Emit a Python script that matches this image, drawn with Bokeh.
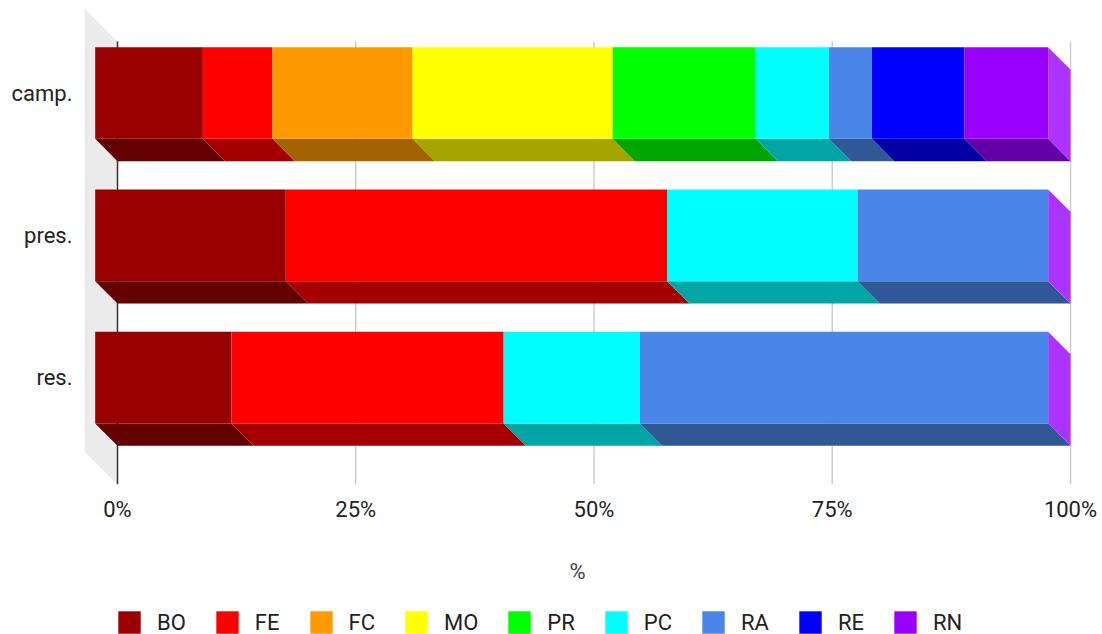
from bokeh.plotting import figure
from bokeh.layouts import column
from bokeh.models import Range1d, FixedTicker, ColumnDataSource, Legend, LegendItem
from bokeh.embed import file_html
from bokeh.resources import INLINE

# ---- data (percent of each row) ----
categories = ["camp.", "pres.", "res."]
series = ["BO", "FE", "FC", "MO", "PR", "PC", "RA", "RE", "RN"]
camp = [11.3, 7.3, 14.7, 21.0, 15.0, 7.7, 4.5, 9.7, 8.8]
pres = [20.0, 40.0, 0.0, 0.0, 0.0, 20.0, 20.0, 0.0, 0.0]
res = [14.29, 28.57, 0.0, 0.0, 0.0, 14.29, 42.86, 0.0, 0.0]
rows = [camp, pres, res]
colors = ["#990000", "#ff0000", "#ff9900", "#ffff00", "#00ff00",
          "#00ffff", "#4a86e8", "#0000ff", "#9900ff"]
x_ticks = [0, 25, 50, 75, 100]
x_tick_labels = ["0%", "25%", "50%", "75%", "100%"]
x_title = "%"

FONT = "Roboto"


def shade(hex_color, k):
    r, g, b = (int(hex_color[i:i + 2], 16) for i in (1, 3, 5))
    return "#%02x%02x%02x" % (int(r * k), int(g * k), int(b * k))


def tint(hex_color, k):
    r, g, b = (int(hex_color[i:i + 2], 16) for i in (1, 3, 5))
    return "#%02x%02x%02x" % tuple(int(c + (255 - c) * k) for c in (r, g, b))


# ---- layout (pixels) ----
W = 1102
H_CHART, H_LEGEND = 600, 44
FRAME_L, FRAME_R, FRAME_T, FRAME_B = 80, 1074, 0, 484
X0_PX, X100_PX = 117, 1070
ROW0_PX, ROW_PITCH_PX = 92.5, 142.35
BAR_PX, DEPTH_PX, WALL_PX, GRID_TOP_PX = 91.7, 22.3, 33, 41
SWATCH_PX = 22.0
SWATCH_BOX = SWATCH_PX / 0.8          # legend glyphs are inset 10% per side

px_per_pct = (X100_PX - X0_PX) / 100.0
x_start = (FRAME_L - X0_PX) / px_per_pct
x_end = (FRAME_R - X0_PX) / px_per_pct
y_top = (FRAME_T - ROW0_PX) / ROW_PITCH_PX
y_bot = (FRAME_B - ROW0_PX) / ROW_PITCH_PX

dx = DEPTH_PX / px_per_pct
dy = DEPTH_PX / ROW_PITCH_PX
hh = BAR_PX / 2.0 / ROW_PITCH_PX
wx = WALL_PX / px_per_pct
wy = WALL_PX / ROW_PITCH_PX
grid_top = (GRID_TOP_PX - ROW0_PX) / ROW_PITCH_PX

p = figure(width=W, height=H_CHART, output_backend="svg", toolbar_location=None,
           x_range=Range1d(x_start, x_end), y_range=Range1d(y_bot, y_top),
           min_border_left=FRAME_L, min_border_right=W - FRAME_R,
           min_border_top=FRAME_T, min_border_bottom=H_CHART - FRAME_B)
p.outline_line_color = None
p.xgrid.visible = False
p.ygrid.visible = False

# back wall on the left
p.patch(x=[-wx, 0, 0, -wx], y=[grid_top - wy, grid_top, y_bot, y_bot - wy],
        fill_color="#ebebeb", line_color=None)

# vertical grid lines
p.segment(x0=x_ticks, y0=[grid_top] * len(x_ticks), x1=x_ticks, y1=[y_bot] * len(x_ticks),
          line_color=["#333333"] + ["#cccccc"] * (len(x_ticks) - 1), line_width=1.5)

# bottom faces of each stacked segment
bx, by, bc = [], [], []
fronts = {s: dict(left=[], right=[], top=[], bottom=[]) for s in series}
for i, row in enumerate(rows):
    acc = 0.0
    for j, v in enumerate(row):
        a, b = acc, acc + v
        acc = b
        bx.append([a - dx, b - dx, b, a])
        by.append([i + hh, i + hh, i + hh + dy, i + hh + dy])
        bc.append(shade(colors[j], 0.65))
        f = fronts[series[j]]
        f["left"].append(a - dx)
        f["right"].append(b - dx)
        f["top"].append(i - hh)
        f["bottom"].append(i + hh)

p.patches(xs="xs", ys="ys", fill_color="c", line_color=None,
          source=ColumnDataSource(dict(xs=bx, ys=by, c=bc)))

# front faces
sources = {s: ColumnDataSource(fronts[s]) for s in series}
for j, s in enumerate(series):
    p.quad(source=sources[s], left="left", right="right",
           top="top", bottom="bottom", fill_color=colors[j], line_color=None)

# right end faces
sx, sy = [], []
for i in range(len(rows)):
    sx.append([100 - dx, 100, 100, 100 - dx])
    sy.append([i - hh, i - hh + dy, i + hh + dy, i + hh])
p.patches(xs=sx, ys=sy, fill_color=tint(colors[-1], 0.2), line_color=None)

# axes
p.yaxis.ticker = FixedTicker(ticks=list(range(len(categories))))
p.yaxis.major_label_overrides = {i: c for i, c in enumerate(categories)}
p.xaxis.ticker = FixedTicker(ticks=x_ticks)
p.xaxis.major_label_overrides = dict(zip(x_ticks, x_tick_labels))
p.xaxis.axis_label = x_title
for ax in (p.xaxis, p.yaxis):
    ax.axis_line_color = None
    ax.major_tick_line_color = None
    ax.minor_tick_line_color = None
    ax.major_tick_out = 0
    ax.major_tick_in = 0
    ax.minor_tick_out = 0
    ax.major_label_text_font = FONT
    ax.major_label_text_font_size = "22px"
    ax.major_label_text_color = "#222222"
p.yaxis.major_label_standoff = 8
p.xaxis.major_label_standoff = 12
p.xaxis.axis_label_text_font = FONT
p.xaxis.axis_label_text_font_size = "22px"
p.xaxis.axis_label_text_font_style = "normal"
p.xaxis.axis_label_text_color = "#444444"
p.xaxis.axis_label_standoff = 34

# legend strip under the chart (its view range holds no bars, only the key)
pl = figure(width=W, height=H_LEGEND, output_backend="svg", toolbar_location=None,
            x_range=Range1d(0, 1), y_range=Range1d(10, 11), min_border=0)
pl.outline_line_color = None
pl.axis.visible = False
pl.grid.visible = False
items = []
for j, s in enumerate(series):
    r = pl.quad(source=sources[s], left="left", right="right", top="top", bottom="bottom",
                fill_color=colors[j], line_color=None)
    items.append(LegendItem(label=s, renderers=[r]))
legend = Legend(items=items, orientation="horizontal", location=(35, 8),
                glyph_width=round(SWATCH_BOX), glyph_height=round(SWATCH_BOX),
                label_standoff=14, spacing=27,
                padding=0, margin=0, border_line_color=None, background_fill_alpha=0,
                label_text_font=FONT, label_text_font_size="22px",
                label_text_color="#222222")
pl.add_layout(legend)

open("out.html", "w").write(file_html(column(p, pl, spacing=0), INLINE))
